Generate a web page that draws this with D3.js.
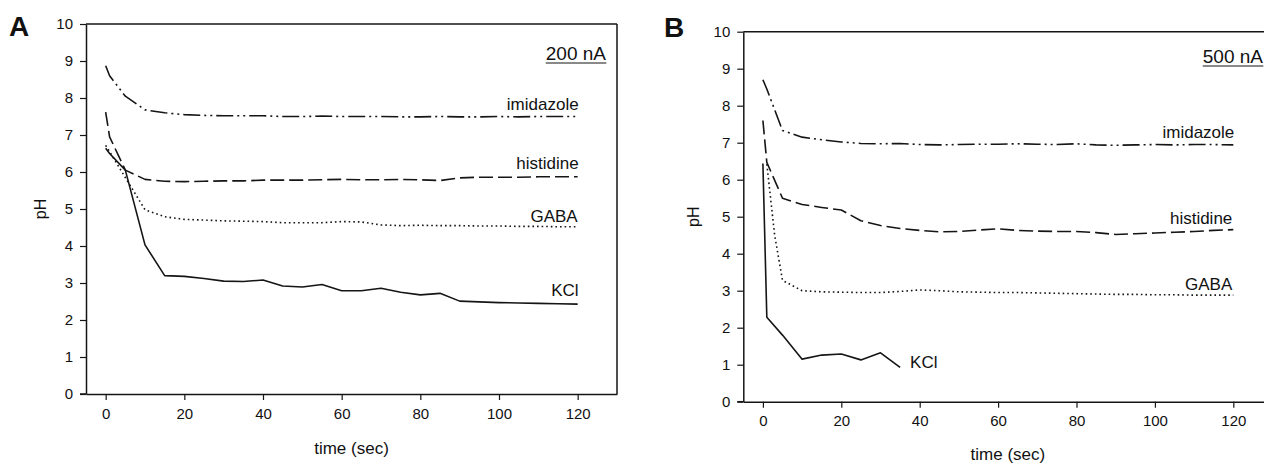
<!DOCTYPE html>
<html>
<head>
<meta charset="utf-8">
<script src="https://cdn.jsdelivr.net/npm/d3@7"></script>
<style>
  body { margin: 0; background: #fff; }
  svg { display: block; }
  text { font-family: "Liberation Sans", Arial, sans-serif; fill: #111; }
</style>
</head>
<body>
<svg id="chart" width="1264" height="464"></svg>
<script>
// --- data ---
// panel A, 200 nA
const timeA = [0, 1, 5, 10, 15, 20, 25, 30, 35, 40, 45, 50, 55, 60, 65, 70, 75, 80, 85, 90, 95, 100, 105, 110, 115, 120];
const imidazoleA = [8.87, 8.6, 8.05, 7.68, 7.6, 7.55, 7.53, 7.52, 7.52, 7.52, 7.5, 7.5, 7.51, 7.5, 7.5, 7.5, 7.49, 7.49, 7.5, 7.49, 7.49, 7.5, 7.49, 7.5, 7.5, 7.5];
const histidineA = [7.62, 6.95, 6.05, 5.8, 5.75, 5.74, 5.75, 5.76, 5.76, 5.78, 5.78, 5.78, 5.79, 5.8, 5.79, 5.79, 5.8, 5.79, 5.77, 5.84, 5.86, 5.86, 5.86, 5.87, 5.87, 5.87];
const gabaA = [6.72, 6.55, 5.85, 4.98, 4.79, 4.72, 4.7, 4.68, 4.67, 4.66, 4.63, 4.63, 4.63, 4.66, 4.65, 4.57, 4.55, 4.56, 4.55, 4.55, 4.54, 4.54, 4.53, 4.53, 4.52, 4.52];
const kclA = [6.64, 6.5, 6.05, 4.03, 3.2, 3.18, 3.12, 3.05, 3.04, 3.08, 2.92, 2.89, 2.96, 2.79, 2.79, 2.86, 2.75, 2.68, 2.72, 2.51, 2.49, 2.47, 2.46, 2.45, 2.44, 2.43];

// panel B, 500 nA
const timeB = [0, 1, 5, 10, 15, 20, 25, 30, 35, 40, 45, 50, 55, 60, 65, 70, 75, 80, 85, 90, 95, 100, 105, 110, 115, 120];
const imidazoleB = [8.7, 8.45, 7.33, 7.15, 7.08, 7.02, 6.98, 6.97, 6.98, 6.95, 6.94, 6.95, 6.96, 6.96, 6.97, 6.96, 6.95, 6.97, 6.94, 6.93, 6.94, 6.95, 6.94, 6.95, 6.95, 6.94];
const histidineB = [7.6, 6.47, 5.5, 5.33, 5.25, 5.18, 4.89, 4.76, 4.68, 4.63, 4.59, 4.6, 4.64, 4.67, 4.63, 4.61, 4.6, 4.6, 4.57, 4.52, 4.54, 4.56, 4.58, 4.6, 4.63, 4.65];
const timeGabaB = [1, 3, 5, 10, 15, 20, 25, 30, 35, 40, 45, 50, 55, 60, 65, 70, 75, 80, 85, 90, 95, 100, 105, 110, 115, 120];
const gabaB = [6.42, 4.5, 3.28, 3.0, 2.97, 2.96, 2.95, 2.95, 2.98, 3.02, 3.0, 2.97, 2.96, 2.95, 2.95, 2.94, 2.93, 2.92, 2.91, 2.9, 2.9, 2.89, 2.89, 2.88, 2.88, 2.88];
const timeKclB = [0, 1, 5, 10, 15, 20, 25, 30, 35];
const kclB = [6.44, 2.28, 1.8, 1.15, 1.26, 1.29, 1.13, 1.32, 0.93];

const xTicks = [0, 20, 40, 60, 80, 100, 120];
const yTicks = [0, 1, 2, 3, 4, 5, 6, 7, 8, 9, 10];

const svg = d3.select("#chart");
const ink = "#151515";

// line styles per series
const styles = {
  imidazole: "17,4,2,4,2,4",
  histidine: "14,5",
  GABA: "1.6,3",
  KCl: null
};

function zip(ts, vs) {
  return ts.map((t, i) => ({t: t, v: vs[i]}));
}

function drawPanel(p) {
  const g = svg.append("g");
  const x = d3.scaleLinear().domain([-5, 130]).range([p.left, p.right]);
  const y = d3.scaleLinear().domain([0, 10]).range([p.bottom, p.top]);

  // frame: top and right
  g.append("line")
    .attr("x1", p.left).attr("x2", p.right)
    .attr("y1", p.top).attr("y2", p.top)
    .attr("stroke", ink).attr("stroke-width", 1.5);
  g.append("line")
    .attr("x1", p.right).attr("x2", p.right)
    .attr("y1", p.top).attr("y2", p.bottom)
    .attr("stroke", ink).attr("stroke-width", 1.5);

  const yAxis = g.append("g")
    .attr("transform", `translate(${p.left},0)`)
    .call(d3.axisLeft(y).tickValues(yTicks).tickSize(6).tickPadding(7).tickSizeOuter(0));
  const xAxis = g.append("g")
    .attr("transform", `translate(0,${p.bottom})`)
    .call(d3.axisBottom(x).tickValues(xTicks).tickSize(6).tickPadding(8).tickSizeOuter(0));

  [yAxis, xAxis].forEach(a => {
    a.select(".domain").attr("stroke", ink).attr("stroke-width", 1.5);
    a.selectAll(".tick line").attr("stroke", ink).attr("stroke-width", 1.2);
    a.selectAll("text").attr("font-size", 15).attr("font-family", "Liberation Sans, Arial, sans-serif").attr("fill", ink);
  });
  // bottom axis runs under the 0 tick to the left
  g.append("line")
    .attr("x1", p.left - 6).attr("x2", p.left)
    .attr("y1", p.bottom).attr("y2", p.bottom)
    .attr("stroke", ink).attr("stroke-width", 1.5);

  const line = d3.line().x(d => x(d.t)).y(d => y(d.v));

  p.series.forEach(s => {
    const pts = zip(s.t, s.v);
    g.append("path")
      .datum(pts)
      .attr("d", line)
      .attr("fill", "none")
      .attr("stroke", ink)
      .attr("stroke-width", 1.6)
      .attr("stroke-linejoin", "round")
      .attr("stroke-dasharray", styles[s.name]);

    const last = pts[pts.length - 1];
    g.append("text")
      .attr("x", x(last.t) + s.dx)
      .attr("y", y(last.v) + s.dy)
      .attr("text-anchor", s.anchor)
      .attr("font-size", 17)
      .text(s.name);
  });

  // axis titles
  g.append("text")
    .attr("x", (p.left + p.right) / 2)
    .attr("y", p.xTitleY)
    .attr("text-anchor", "middle")
    .attr("font-size", 17)
    .text("time (sec)");
  g.append("text")
    .attr("transform", `translate(${p.yTitleX},${(p.top + p.bottom) / 2}) rotate(-90)`)
    .attr("text-anchor", "middle")
    .attr("font-size", 16)
    .text("pH");

  // panel letter
  g.append("text")
    .attr("x", p.letterX).attr("y", p.letterY)
    .attr("font-size", 28).attr("font-weight", "bold")
    .text(p.letter);

  // current, underlined
  const cur = g.append("text")
    .attr("x", p.currentX).attr("y", p.currentY)
    .attr("text-anchor", "end")
    .attr("font-size", 19)
    .text(p.current);
  const bb = cur.node().getBBox();
  g.append("line")
    .attr("x1", bb.x).attr("x2", bb.x + bb.width)
    .attr("y1", p.currentY + 3).attr("y2", p.currentY + 3)
    .attr("stroke", ink).attr("stroke-width", 1.2);
}

drawPanel({
  letter: "A", letterX: 9, letterY: 36,
  current: "200 nA", currentX: 606, currentY: 60,
  left: 86, right: 617, top: 24, bottom: 394,
  xTitleY: 454, yTitleX: 46,
  series: [
    {name: "imidazole", t: timeA, v: imidazoleA, dx: 1, dy: -6.5, anchor: "end"},
    {name: "histidine", t: timeA, v: histidineA, dx: 1, dy: -8, anchor: "end"},
    {name: "GABA", t: timeA, v: gabaA, dx: 0, dy: -5, anchor: "end"},
    {name: "KCl", t: timeA, v: kclA, dx: 1, dy: -8, anchor: "end"}
  ]
});

drawPanel({
  letter: "B", letterX: 664, letterY: 37,
  current: "500 nA", currentX: 1263, currentY: 63,
  left: 743.3, right: 1272.5, top: 31.7, bottom: 401.7,
  xTitleY: 460, yTitleX: 699,
  series: [
    {name: "imidazole", t: timeB, v: imidazoleB, dx: 1, dy: -7, anchor: "end"},
    {name: "histidine", t: timeB, v: histidineB, dx: -1, dy: -5.6, anchor: "end"},
    {name: "GABA", t: timeGabaB, v: gabaB, dx: -1, dy: -5, anchor: "end"},
    {name: "KCl", t: timeKclB, v: kclB, dx: 10, dy: 1, anchor: "start"}
  ]
});
</script>
</body>
</html>
